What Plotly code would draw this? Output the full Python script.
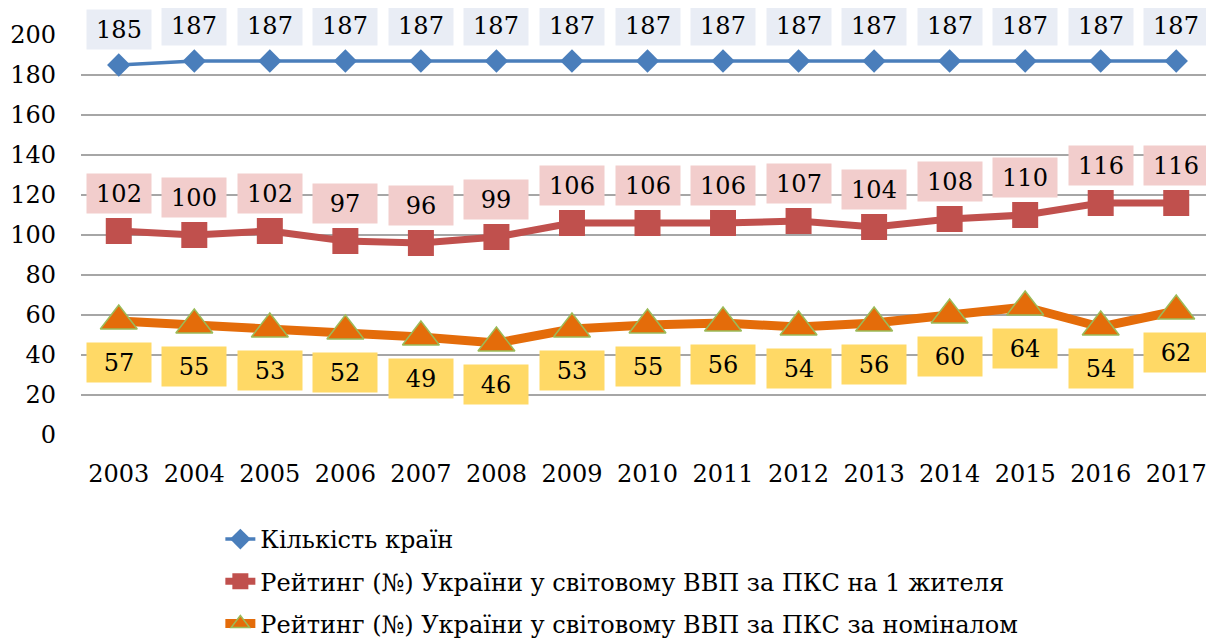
import plotly.graph_objects as go

years = list(range(2003, 2018))
countries = [185, 187, 187, 187, 187, 187, 187, 187, 187, 187, 187, 187, 187, 187, 187]
rank_ppp_pc = [102, 100, 102, 97, 96, 99, 106, 106, 106, 107, 104, 108, 110, 116, 116]
rank_nominal = [57, 55, 53, 52, 49, 46, 53, 55, 56, 54, 56, 60, 64, 54, 62]

names = [
    "Кількість країн",
    "Рейтинг (№) України у світовому ВВП за ПКС на 1 жителя",
    "Рейтинг (№) України у світовому ВВП за ПКС за номіналом",
]

FONT = "'DejaVu Serif'"

fig = go.Figure()
fig.add_trace(go.Scatter(
    x=years, y=countries, name=names[0], mode="lines+markers", legendgroup="a",
    line=dict(color="#4A7EBB", width=3.5),
    marker=dict(symbol="diamond", size=18, color="#4A7EBB"),
    cliponaxis=False,
))
fig.add_trace(go.Scatter(
    x=years, y=rank_ppp_pc, name=names[1], mode="lines+markers", legendgroup="b",
    line=dict(color="#C0504D", width=7),
    marker=dict(symbol="square", size=26, color="#C0504D"),
    cliponaxis=False,
))
fig.add_trace(go.Scatter(
    x=years, y=rank_nominal, name=names[2], mode="lines+markers", legendgroup="c",
    line=dict(color="#E46C0A", width=9),
    marker=dict(symbol="triangle-up", size=32, color="#E46C0A",
                line=dict(color="#9BBB59", width=1.5)),
    cliponaxis=False,
))

annotations = []
for vals, bg, shift in [
    (countries, "#E9EDF5", 36),
    (rank_ppp_pc, "#F2CDCC", 38),
    (rank_nominal, "#FFD966", -41),
]:
    for x, v in zip(years, vals):
        annotations.append(dict(
            x=x, y=v, xref="x", yref="y", text=str(v), showarrow=False,
            yshift=shift, bgcolor=bg, width=62, height=37,
            font=dict(family=FONT, size=24, color="#000000"),
        ))

fig.update_layout(
    width=1206, height=634,
    margin=dict(l=73, r=0, t=27, b=207, autoexpand=False),
    paper_bgcolor="white", plot_bgcolor="white",
    font=dict(family=FONT, size=22, color="#000000"),
    annotations=annotations,
    showlegend=True,
    legend=dict(
        x=0.123, y=-0.205, xanchor="left", yanchor="top",
        font=dict(family=FONT, size=24, color="#000000"),
        tracegroupgap=8, traceorder="grouped",
        bgcolor="rgba(0,0,0,0)",
    ),
    xaxis=dict(
        range=[2002.5, 2017.5], tickmode="array", tickvals=years,
        ticktext=[str(y) for y in years], showgrid=False,
        showline=False, zeroline=False, ticks="",
        tickfont=dict(family=FONT, size=24), ticklabelstandoff=22,
    ),
    yaxis=dict(
        range=[0, 200], dtick=20, showgrid=True, gridcolor="#A6A6A6",
        gridwidth=1.5, zeroline=False, showline=False, ticks="",
        tickfont=dict(family=FONT, size=24), ticklabelstandoff=24,
    ),
)

fig.write_html("out.html")
